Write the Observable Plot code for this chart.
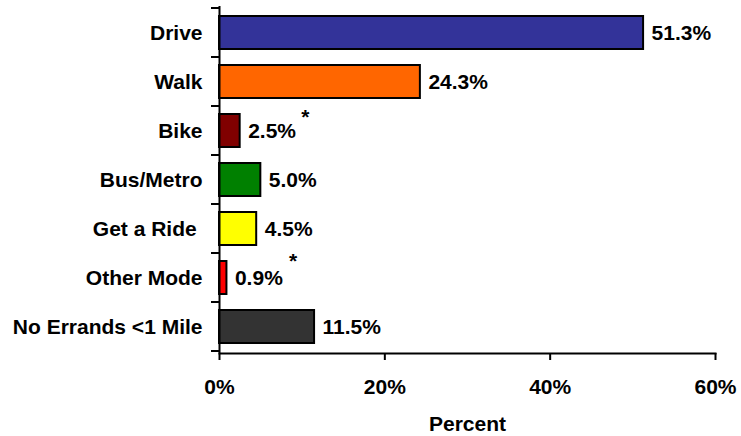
<!DOCTYPE html>
<html><head><meta charset="utf-8">
<script src="https://cdn.jsdelivr.net/npm/d3@7"></script>
<script src="https://cdn.jsdelivr.net/npm/@observablehq/plot@0.6"></script>
<style>body{margin:0;background:#fff}</style>
</head><body><div id="chart"></div>
<script>
const categories = ["Drive","Walk","Bike","Bus/Metro","Get a Ride","Other Mode","No Errands <1 Mile"];
const values = [51.3,24.3,2.5,5.0,4.5,0.9,11.5];
const colors = ["#333399","#FF6600","#800000","#008000","#FFFF00","#FF0000","#333333"];
const valueLabels = ["51.3%","24.3%","2.5%","5.0%","4.5%","0.9%","11.5%"];
const flagged = ["Bike","Other Mode"];
const xTicks = [0,20,40,60];
const xTickLabels = ["0%","20%","40%","60%"];
const axisTitle = "Percent";

const data = categories.map((c,i)=>({category:c, value:values[i], color:colors[i], label:valueLabels[i]}));
const font = "'Liberation Sans', Arial, Helvetica, sans-serif";
const FS = 21;

// tick marks at the band boundaries of the category axis
function bandBoundaryTicks(index, scales, vals, dims) {
  const y = scales.y;
  const step = y.step ? y.step() : (dims.height - dims.marginTop - dims.marginBottom) / categories.length;
  const g = d3.create("svg:g").attr("stroke","#000").attr("stroke-width",2);
  const starts = categories.map(c => y(c) - (step - y.bandwidth()) / 2);
  starts.push(starts[starts.length-1] + step);
  for (const yy of starts) {
    g.append("line").attr("x1", dims.marginLeft - 8).attr("x2", dims.marginLeft).attr("y1", yy).attr("y2", yy);
  }
  return g.node();
}

const chart = Plot.plot({
  width: 741, height: 436,
  marginLeft: 219, marginRight: 26, marginTop: 6, marginBottom: 83,
  style: {fontFamily: font, fontWeight: "bold", fontSize: FS + "px", color: "#000", background: "#fff"},
  x: {domain: [0, 60]},
  y: {domain: categories, paddingInner: 0.33, paddingOuter: 0.165, label: null},
  color: {type: "identity"},
  marks: [
    Plot.barX(data, {x: "value", y: "category", fill: "color", stroke: "#000", strokeWidth: 2}),
    Plot.ruleX([0], {stroke: "#000", strokeWidth: 2}),
    Plot.frame({anchor: "bottom", stroke: "#000", strokeWidth: 2}),
    bandBoundaryTicks,
    Plot.axisY({tickSize: 0, tickPadding: 17, fontSize: FS, fontWeight: "bold", label: null,
      tickFormat: d => d === "Get a Ride" ? d + "\u00a0" : d}),
    Plot.axisX({ticks: xTicks, tickFormat: d => xTickLabels[xTicks.indexOf(d)], tickSize: 7, strokeWidth: 2,
      tickPadding: 19, fontSize: FS, fontWeight: "bold", label: null}),
    Plot.text([axisTitle], {frameAnchor: "bottom", text: d => d, dy: 77, fontSize: FS, fontWeight: "bold", fill: "#000"}),
    Plot.text(data, {x: "value", y: "category", text: "label", textAnchor: "start", dx: 8, fontSize: FS, fontWeight: "bold", fill: "#000"}),
    Plot.text(data.filter(d => d.category === flagged[0]), {x: "value", y: "category", text: () => "*", textAnchor: "start", dx: 61, dy: -14, fontSize: FS, fontWeight: "bold", fill: "#000"}),
    Plot.text(data.filter(d => d.category === flagged[1]), {x: "value", y: "category", text: () => "*", textAnchor: "start", dx: 62, dy: -17, fontSize: FS, fontWeight: "bold", fill: "#000"})
  ]
});
document.getElementById("chart").appendChild(chart);
</script>
</body></html>
